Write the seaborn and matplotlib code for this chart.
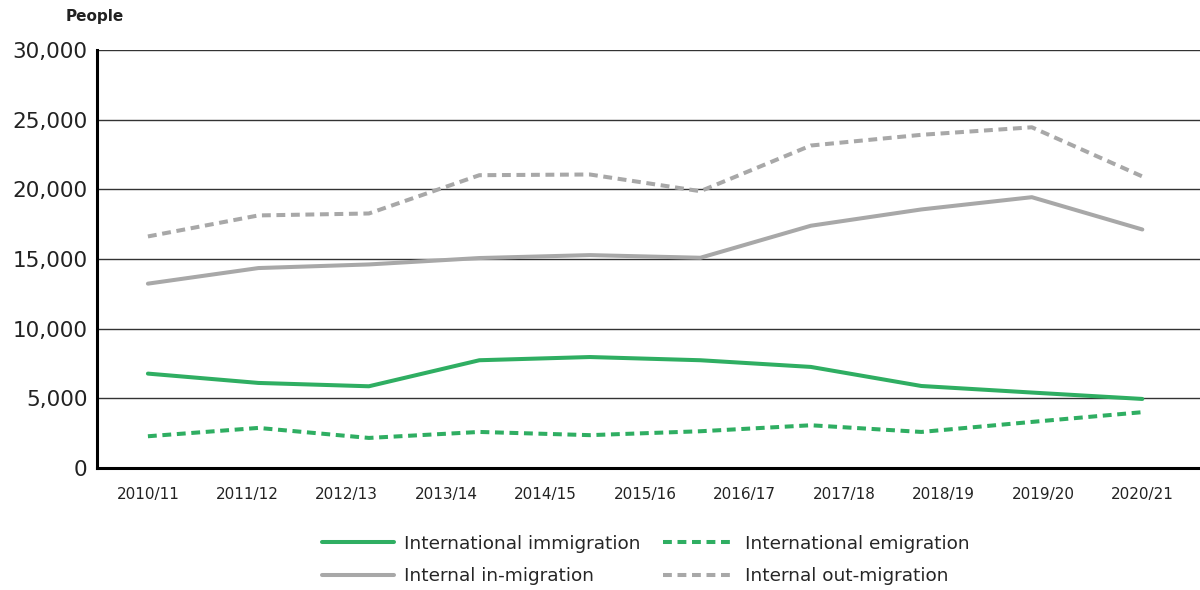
import numpy as np
import pandas as pd
import matplotlib
matplotlib.use("Agg")
import matplotlib.pyplot as plt
import seaborn as sns

# x-axis labels and migration flows (people)
years = ['2010/11', '2011/12', '2012/13', '2013/14', '2014/15', '2015/16',
         '2016/17', '2017/18', '2018/19', '2019/20', '2020/21']
intl_immigration = [6770, 6100, 5860, 7730, 7960, 7730, 7250, 5880, 5410, 4950]
intl_emigration = [2270, 2870, 2150, 2580, 2350, 2630, 3060, 2580, 3300, 4000]
internal_in = [13230, 14350, 14610, 15070, 15280, 15090, 17390, 18560, 19440, 17120]
internal_out = [16620, 18130, 18270, 21020, 21070, 19870, 23150, 23920, 24460, 20930]

green = '#2fae62'
grey = '#a8a8a8'

sns.set_style('white')
plt.rcParams['font.family'] = ['DejaVu Sans']

fig = plt.figure(figsize=(12, 5.9), dpi=100)
ax = fig.add_axes([0.081, 0.207, 0.919, 0.708])

# the source chart spreads its points across the whole labelled axis
pos = np.linspace(0, len(years) - 1, len(intl_immigration))
dash = (0, (2.2, 1.4))

series = [
    ('International immigration', intl_immigration, green, '-'),
    ('International emigration', intl_emigration, green, dash),
    ('Internal in-migration', internal_in, grey, '-'),
    ('Internal out-migration', internal_out, grey, dash),
]
for name, vals, col, ls in series:
    df = pd.DataFrame({'x': pos, 'y': vals})
    sns.lineplot(data=df, x='x', y='y', ax=ax, color=col, linewidth=2.9,
                 linestyle=ls, label=name)

ax.set_ylim(0, 30000)
ax.set_xlim(-0.51, 10.58)
ax.set_yticks(range(0, 30001, 5000))
ax.set_yticklabels([f'{v:,}' for v in range(0, 30001, 5000)], fontsize=15.5,
                   color='#222222')
ax.set_xticks(range(len(years)))
ax.set_xticklabels(years, fontsize=11, color='#222222')
ax.tick_params(axis='both', length=0)
ax.tick_params(axis='x', pad=14)
ax.tick_params(axis='y', pad=7)
ax.set_xlabel('')
ax.set_ylabel('')
ax.grid(axis='y', color='#333333', linewidth=1)
ax.set_axisbelow(True)
for s in ['top', 'right']:
    ax.spines[s].set_visible(False)
for s in ['left', 'bottom']:
    ax.spines[s].set_color('black')
    ax.spines[s].set_linewidth(2.2)

fig.text(0.055, 0.972, 'People', fontsize=11, fontweight='bold', va='center',
         color='#222222')

handles, labels = ax.get_legend_handles_labels()
ax.get_legend().remove()
order = [0, 2, 1, 3]
fig.legend([handles[i] for i in order], [labels[i] for i in order], ncol=2,
           loc='center', bbox_to_anchor=(0.538, 0.051), frameon=False,
           fontsize=13.3, handlelength=3.9, handletextpad=0.55,
           columnspacing=1.2, labelspacing=0.8)

fig.savefig('out.png', dpi=100)
